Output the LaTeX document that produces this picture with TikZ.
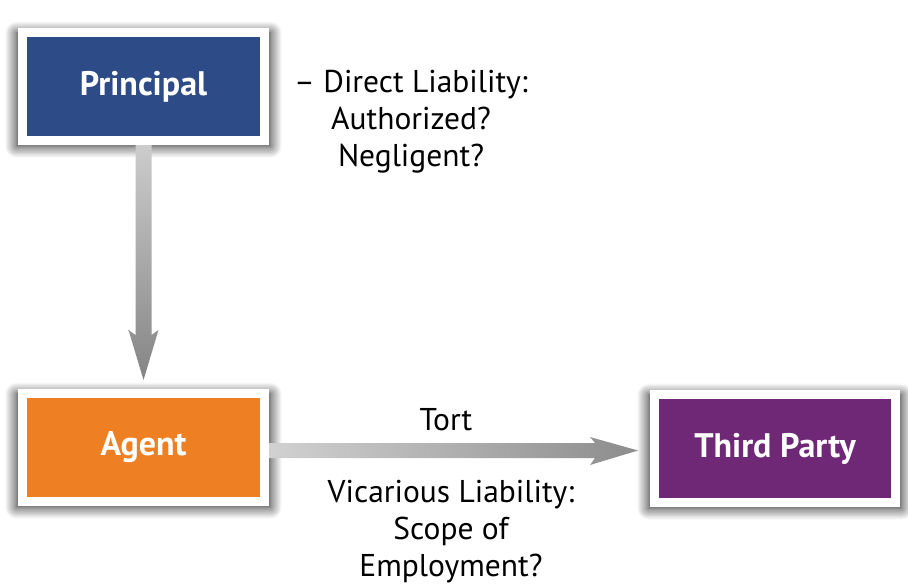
\documentclass[tikz,border=0pt]{standalone}
\usepackage{fontspec}
\setmainfont{PT Sans}
\usetikzlibrary{calc,shadows.blur}
\definecolor{pblue}{HTML}{2D4B86}
\definecolor{aorange}{HTML}{EE8023}
\definecolor{tpurple}{HTML}{6E2876}
\tikzset{
  box/.style={draw=white, line width=9pt, minimum width=242pt, minimum height=108pt,
    inner sep=0pt, text=white, font=\fontsize{34}{40}\selectfont\bfseries,
    blur shadow={shadow xshift=0pt, shadow yshift=-3pt, shadow blur radius=11pt, shadow opacity=90, shadow scale=1.05, shadow blur steps=14}},
  lbl/.style={inner sep=0pt, align=center, font=\fontsize{31.5}{37}\selectfont},
}
\begin{document}
\begin{tikzpicture}[x=1pt,y=-1pt]
\useasboundingbox (0,0) rectangle (908,586);
\node[box, fill=pblue] (p) at (143.5,86.5) {Principal};
\node[box, fill=aorange] (a) at (143.5,447.5) {Agent};
\node[box, fill=tpurple, minimum width=241pt] (t) at (775,448.5) {Third Party};
% vertical arrow
\shade[top color=black!20, bottom color=black!48]
  ($(p.south)+(-8,0)$) -- ($(p.south)+(-8,190)$) -- ($(p.south)+(-15,185)$)
  -- ($(p.south)+(0,235)$) -- ($(p.south)+(15,185)$) -- ($(p.south)+(8,190)$)
  -- ($(p.south)+(8,0)$) -- cycle;
% horizontal arrow
\shade[left color=black!18, right color=black!45]
  ($(a.east)+(0,-4.5)$) -- ($(a.east)+(326,-4.5)$) -- ($(a.east)+(321,-10.5)$)
  -- ($(a.east)+(369,3)$) -- ($(a.east)+(321,17.5)$) -- ($(a.east)+(326,10.5)$)
  -- ($(a.east)+(0,10.5)$) -- cycle;
\node[lbl, anchor=north] (dl) at (411,69.5) {– Direct Liability:\\Authorized?\\Negligent?};
\node[lbl, anchor=base] (tort) at (446,430) {Tort};
\node[lbl, anchor=north] (vl) at (451,479.5) {Vicarious Liability:\\Scope of\\Employment?};
\end{tikzpicture}
\end{document}
